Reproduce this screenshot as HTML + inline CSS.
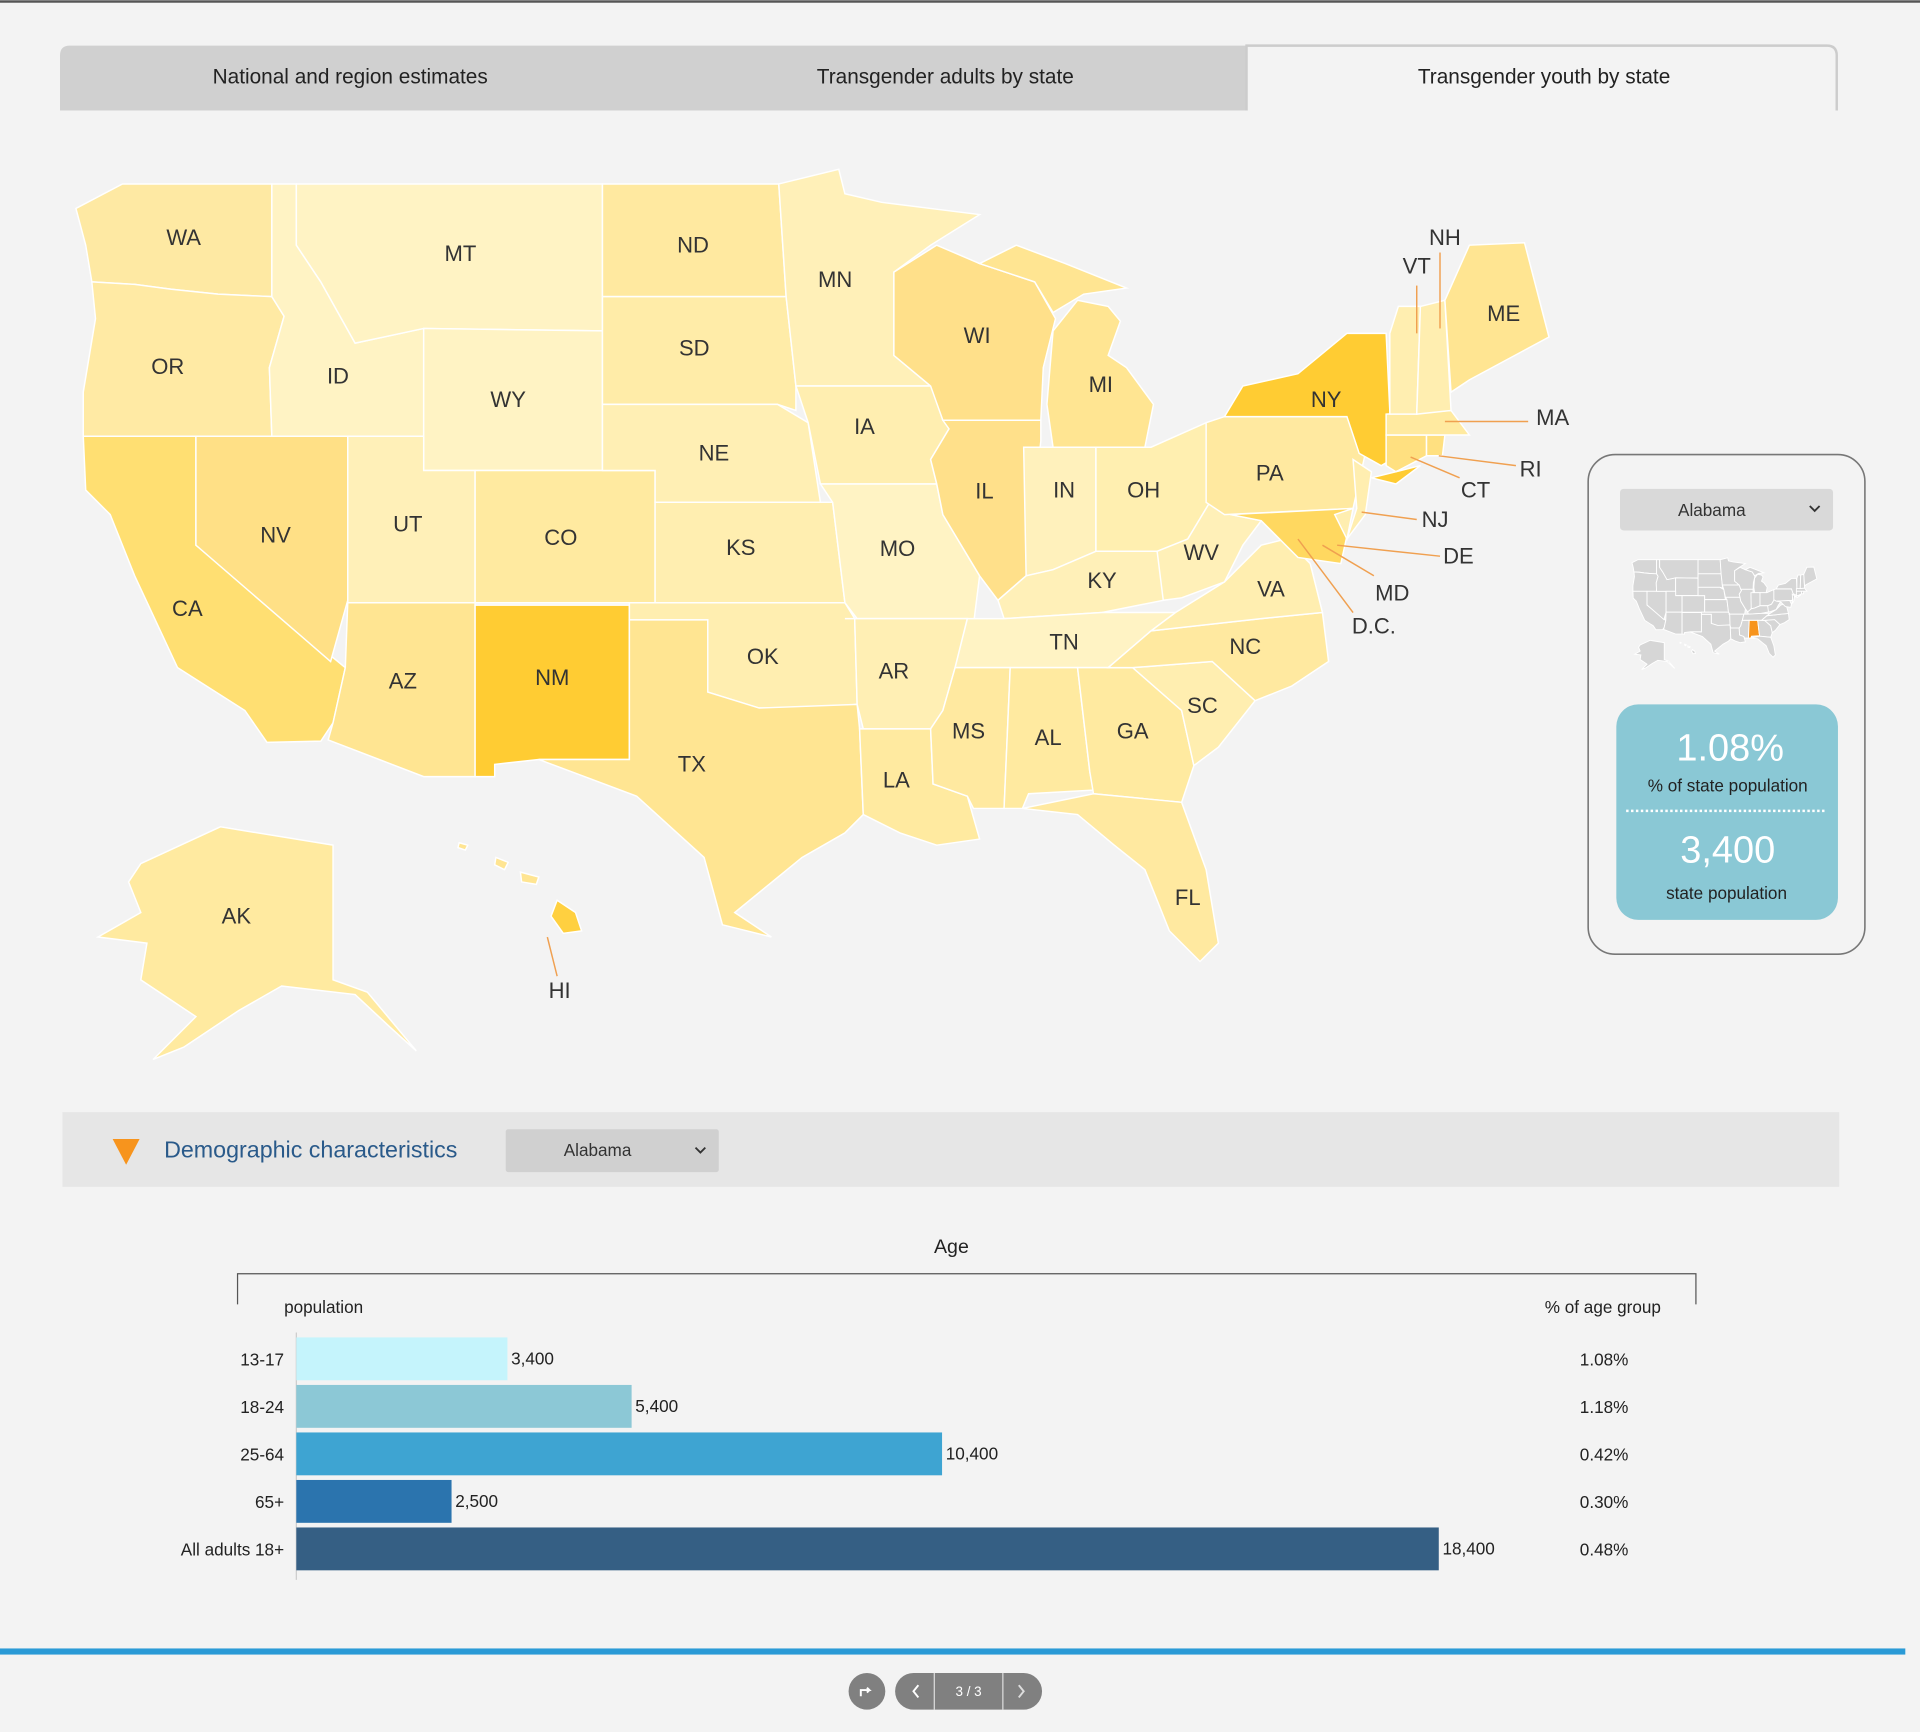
<!DOCTYPE html>
<html><head><meta charset="utf-8"><style>
html,body{margin:0;padding:0;background:#f3f3f3;}
svg{display:block;font-family:"Liberation Sans",sans-serif;}
</style></head><body>
<svg id="root" width="1920" height="1732" viewBox="0 0 1568 1414" xmlns="http://www.w3.org/2000/svg">
<rect x="0" y="0" width="1568" height="1414" fill="#f3f3f3"/>
<rect x="0" y="0" width="1568" height="2" fill="#555"/>
<g>
 <path d="M49,90 V45 Q49,37 57,37 H1018 V90 Z" fill="#d0d0d0"/>
 <path d="M1018,90 V37 H1492 Q1500,37 1500,45 V90" fill="#f3f3f3" stroke="#ccc" stroke-width="2"/>
 <text x="286" y="68" font-size="17" fill="#222" text-anchor="middle">National and region estimates</text>
 <text x="772" y="68" font-size="17" fill="#222" text-anchor="middle">Transgender adults by state</text>
 <text x="1261" y="68" font-size="17" fill="#222" text-anchor="middle">Transgender youth by state</text>
</g>
<g id="map"></g>
<g id="leaders" stroke="#f0a050" stroke-width="1.2" fill="none">
 <path d="M1157,233 V272"/><path d="M1176,206 V268"/><path d="M1180,344 H1248"/><path d="M1175,372 L1238,380"/>
 <path d="M1152,373 L1192,390"/><path d="M1112,418 L1157,424"/><path d="M1092,445 L1176,454"/>
 <path d="M1080,445 L1122,470"/><path d="M1060,440 L1105,500"/><path d="M447,765 L455,797"/>
</g>
<g id="labels" font-size="18" fill="#333" text-anchor="middle"></g>
<g>
 <rect x="1297" y="371" width="226" height="408" rx="22" fill="#f3f3f3" stroke="#777" stroke-width="1.3"/>
 <rect x="1323" y="399" width="174" height="34" rx="3" fill="#d9d9d9"/>
 <text x="1398" y="421" font-size="14" fill="#333" text-anchor="middle">Alabama</text>
 <path d="M1478,413 l4,4 l4,-4" stroke="#333" stroke-width="1.5" fill="none"/>
 <g id="mini"></g>
 <rect x="1320" y="575" width="181" height="176" rx="18" fill="#8ac8d5"/>
 <text x="1413" y="621" font-size="31" fill="#fff" text-anchor="middle">1.08%</text>
 <text x="1411" y="646" font-size="14" fill="#222" text-anchor="middle">% of state population</text>
 <line x1="1328" y1="662" x2="1492" y2="662" stroke="#fff" stroke-width="2" stroke-dasharray="2,2"/>
 <text x="1411" y="704" font-size="31" fill="#fff" text-anchor="middle">3,400</text>
 <text x="1410" y="734" font-size="14" fill="#222" text-anchor="middle">state population</text>
</g>
<g>
 <rect x="51" y="908" width="1451" height="61" fill="#e6e6e6"/>
 <path d="M92,930 H114 L103,951 Z" fill="#f7941d"/>
 <text x="134" y="945" font-size="19" fill="#2a5a8a">Demographic characteristics</text>
 <rect x="413" y="922" width="174" height="35" rx="2" fill="#d0d0d0"/>
 <text x="488" y="944" font-size="14" fill="#333" text-anchor="middle">Alabama</text>
 <path d="M568,937 l4,4 l4,-4" stroke="#333" stroke-width="1.5" fill="none"/>
</g>
<g id="chart">
 <text x="777" y="1023" font-size="16" fill="#222" text-anchor="middle">Age</text>
 <path d="M194,1065 V1040 H1385 V1065" stroke="#555" stroke-width="1" fill="none"/>
 <text x="232" y="1072" font-size="14" fill="#222">population</text>
 <text x="1309" y="1072" font-size="14" fill="#222" text-anchor="middle">% of age group</text>
 <line x1="242" y1="1088" x2="242" y2="1290" stroke="#ccc" stroke-width="1"/>
</g>
<rect x="0" y="1346" width="1556" height="5" fill="#2a9ad6"/>
<g>
 <ellipse cx="708" cy="1381" rx="15" ry="15" fill="#808080"/>
 <path d="M703,1385 v-5 h7 l-2,-2 m2,2 l-2,2" stroke="#fff" stroke-width="1.6" fill="none"/>
 <rect x="731" y="1366" width="120" height="30" rx="15" fill="#808080"/>
 <line x1="763" y1="1366" x2="763" y2="1396" stroke="#ddd"/><line x1="819" y1="1366" x2="819" y2="1396" stroke="#ddd"/>
 <path d="M750,1376 l-4,5 l4,5" stroke="#fff" stroke-width="1.6" fill="none"/>
 <path d="M832,1376 l4,5 l-4,5" stroke="#ddd" stroke-width="1.6" fill="none"/>
 <text x="791" y="1385" font-size="11" fill="#fff" text-anchor="middle">3 / 3</text>
</g>
</svg>
<script>
const ageGroups = ["13-17","18-24","25-64","65+","All adults 18+"];
const populationValues = [3400,5400,10400,2500,18400];
const pctValues = ["1.08%","1.18%","0.42%","0.30%","0.48%"];
const populationLabels = ["3,400","5,400","10,400","2,500","18,400"];
const barColors = ["#c5f4fc","#8cc8d6","#3ea4d2","#2b74ae","#355f84"];

const NS="http://www.w3.org/2000/svg";
function mk(tag,attrs,parent){const e=document.createElementNS(NS,tag);for(const k in attrs)e.setAttribute(k,attrs[k]);parent.appendChild(e);return e;}
const xScale=v=>242+v*(933/18400);
const yBand=i=>1092+i*38.8;
const chart=document.getElementById('chart');
ageGroups.forEach((g,i)=>{
 const y=yBand(i);
 const r=mk('rect',{x:242,y:y,width:xScale(populationValues[i])-242,height:35,fill:barColors[i]},chart);
 
 
 const l=mk('text',{x:232,y:y+23,'font-size':14,fill:'#222','text-anchor':'end'},chart);l.textContent=g;
 
 
 const v=mk('text',{x:xScale(populationValues[i])+3,y:y+22,'font-size':14,fill:'#222'},chart);v.textContent=populationLabels[i];
 
 
 const p=mk('text',{x:1310,y:y+23,'font-size':14,fill:'#222','text-anchor':'middle'},chart);p.textContent=pctValues[i];
 
 
});

const states={
WA:["#fee9a3","62,170 100,150 222,150 222,242 178,240 140,236 110,232 75,230 70,200"],
OR:["#ffeaa4","75,230 110,232 140,236 178,240 222,242 232,258 220,300 222,356 68,356 68,320 78,260"],
CA:["#ffdf72","68,356 160,356 160,445 282,545 272,590 262,605 218,606 200,580 145,545 110,470 90,420 70,400"],
NV:["#ffe086","160,356 284,356 284,490 270,540 160,445"],
ID:["#fff3c4","222,150 242,150 242,200 262,230 290,280 346,268 346,356 222,356 220,300 232,258 222,242"],
MT:["#fff3c4","242,150 492,150 492,270 346,268 290,280 262,230 242,200"],
WY:["#fff3c4","346,268 492,270 492,384 346,384"],
UT:["#fff0b8","284,356 346,356 346,384 388,384 388,492 284,492"],
CO:["#ffeaa0","388,384 535,384 535,492 388,492"],
AZ:["#ffe592","284,492 388,492 388,634 346,634 268,604 272,590 282,545"],
NM:["#ffcc33","388,494 514,494 514,620 440,620 404,624 404,634 388,634"],
ND:["#ffe9a0","492,150 636,150 642,242 492,242"],
SD:["#ffeca8","492,242 642,242 650,315 650,335 635,330 492,330"],
NE:["#ffefb4","492,330 635,330 660,345 670,410 535,410 535,384 492,384"],
KS:["#ffeeb0","535,410 680,410 690,492 535,492"],
OK:["#ffeeb0","514,492 690,492 698,505 700,575 665,578 620,578 578,565 578,506 514,506"],
TX:["#ffe592","514,506 578,506 578,565 620,578 700,575 702,595 705,665 690,680 655,700 600,745 630,765 590,755 575,700 520,650 480,635 440,620 514,620"],
MN:["#fff0b8","636,150 685,138 690,158 720,165 800,175 760,200 730,222 730,290 760,315 650,315 642,242"],
IA:["#ffeeb0","650,315 760,315 775,350 760,375 765,395 670,395 660,345"],
MO:["#fff3c4","670,395 765,395 770,420 800,470 795,510 790,505 700,505 690,492 680,410"],
AR:["#ffefb4","690,505 790,505 780,545 770,580 760,595 705,595 700,575 698,505"],
LA:["#ffeaa0","705,595 760,595 762,640 790,650 800,685 765,690 735,680 715,670 705,665 702,595"],
WI:["#ffe08a","730,222 765,200 800,215 845,230 862,260 852,300 850,343 770,343 760,315 730,290"],
IL:["#ffe08a","770,343 850,343 850,360 838,470 815,490 800,470 770,420 765,395 760,375 775,350"],
MI:["#ffe592","860,270 880,245 905,250 915,262 905,290 920,300 942,330 935,365 860,365 855,330"],
MIU:["#ffe592","800,215 830,200 870,215 920,235 885,240 860,255 845,230"],
IN:["#fff1bc","836,365 895,365 895,450 860,465 838,470"],
OH:["#ffefb0","895,365 940,365 985,345 988,410 970,440 945,450 895,450"],
KY:["#fff0b8","815,490 838,470 860,465 895,450 945,450 965,470 950,490 900,500 820,505"],
TN:["#fff3c4","790,505 820,505 900,500 960,500 940,515 905,545 780,545"],
MS:["#ffe9a0","780,545 825,545 820,660 795,660 790,650 762,640 760,595 770,580"],
AL:["#ffeaa0","825,545 880,545 890,630 893,645 840,648 835,660 820,660"],
GA:["#ffeaa0","880,545 925,545 965,580 975,625 965,655 893,648 890,630"],
FL:["#ffe9a0","835,660 893,648 965,655 985,710 995,770 980,785 955,760 935,710 910,690 880,665"],
SC:["#ffeeb0","925,545 990,540 1025,572 995,610 975,625 965,580"],
NC:["#ffe9a0","905,545 940,515 1030,505 1080,500 1085,540 1055,560 1025,572 990,540 925,545"],
VA:["#ffeeb0","960,500 1000,475 1030,445 1050,440 1070,460 1080,500 1030,505 940,515"],
WV:["#fff0b8","945,450 970,440 988,410 1005,420 1030,425 1015,445 1000,475 965,488 950,490"],
PA:["#ffe9a0","985,345 1000,340 1100,340 1115,370 1105,415 1000,420 985,410"],
NY:["#ffcc33","1000,340 1015,315 1060,305 1100,272 1132,272 1135,335 1145,370 1128,380 1110,370 1100,340"],
NYLI:["#ffcc33","1120,390 1160,380 1140,395"],
MD:["#ffd860","1005,420 1105,415 1095,460 1060,455 1040,435 1030,425"],
DE:["#ffeeb0","1090,420 1105,415 1100,440"],
NJ:["#ffeeb0","1105,375 1120,385 1115,420 1100,440 1108,415"],
CT:["#ffe080","1132,355 1165,355 1165,372 1140,385 1132,380"],
RI:["#ffe080","1165,355 1180,355 1178,372 1165,372"],
MA:["#ffeaa0","1132,338 1185,335 1200,355 1180,355 1132,355"],
VT:["#ffeeb0","1135,272 1142,250 1160,250 1157,338 1135,338"],
NH:["#ffeeb0","1160,250 1180,245 1185,335 1157,338"],
ME:["#ffe592","1180,245 1200,200 1245,198 1265,275 1200,310 1185,320"],
AK:["#ffeaa0","115,705 180,675 272,690 272,800 300,810 340,858 320,840 290,812 230,805 195,825 150,855 125,865 160,830 115,800 120,770 80,765 115,745 105,720"],
HI1:["#ffd040","455,735 470,745 475,760 460,762 450,748"],
HI2:["#ffe592","425,712 440,716 438,722 426,720"],
HI3:["#ffe592","405,700 415,704 412,710 404,706"],
HI4:["#ffe592","375,688 382,690 380,694 374,692"]
};
const map=document.getElementById('map'), mini=document.getElementById('mini');
const mg=mk('g',{transform:'translate(1325,438) scale(0.1255)'},mini);
for(const k in states){
 const p=mk('polygon',{points:states[k][1],fill:states[k][0],stroke:'#fff','stroke-width':1.2},map);
 
 
 const q=mk('polygon',{points:states[k][1],fill:k==='AL'?'#f7941d':'#d6d6d6',stroke:'#fff','stroke-width':6},mg);
 
 
}
const labels=[["WA",150,200],["MT",376,213],["ND",566,206],["MN",682,234],["OR",137,305],["ID",276,313],["WY",415,332],["SD",567,290],["WI",798,280],["MI",899,320],["NY",1083,332],["NH",1180,200],["VT",1157,223],["ME",1228,262],["MA",1268,347],["RI",1250,389],["CT",1205,406],["NJ",1172,430],["DE",1191,460],["MD",1137,490],["D.C.",1122,517],["IA",706,354],["NE",583,376],["NV",225,443],["UT",333,434],["CO",458,445],["IL",804,407],["IN",869,406],["OH",934,406],["PA",1037,392],["KS",605,453],["MO",733,454],["KY",900,480],["WV",981,457],["VA",1038,487],["CA",153,503],["TN",869,530],["NC",1017,534],["AZ",329,562],["NM",451,559],["OK",623,542],["AR",730,554],["SC",982,582],["MS",791,603],["AL",856,608],["GA",925,603],["TX",565,630],["LA",732,643],["FL",970,739],["AK",193,754],["HI",457,815]];
const lg=document.getElementById('labels');
labels.forEach(l=>{const t=mk('text',{x:l[1],y:l[2]},lg);t.textContent=l[0];
 
 });
</script>
</body></html>
